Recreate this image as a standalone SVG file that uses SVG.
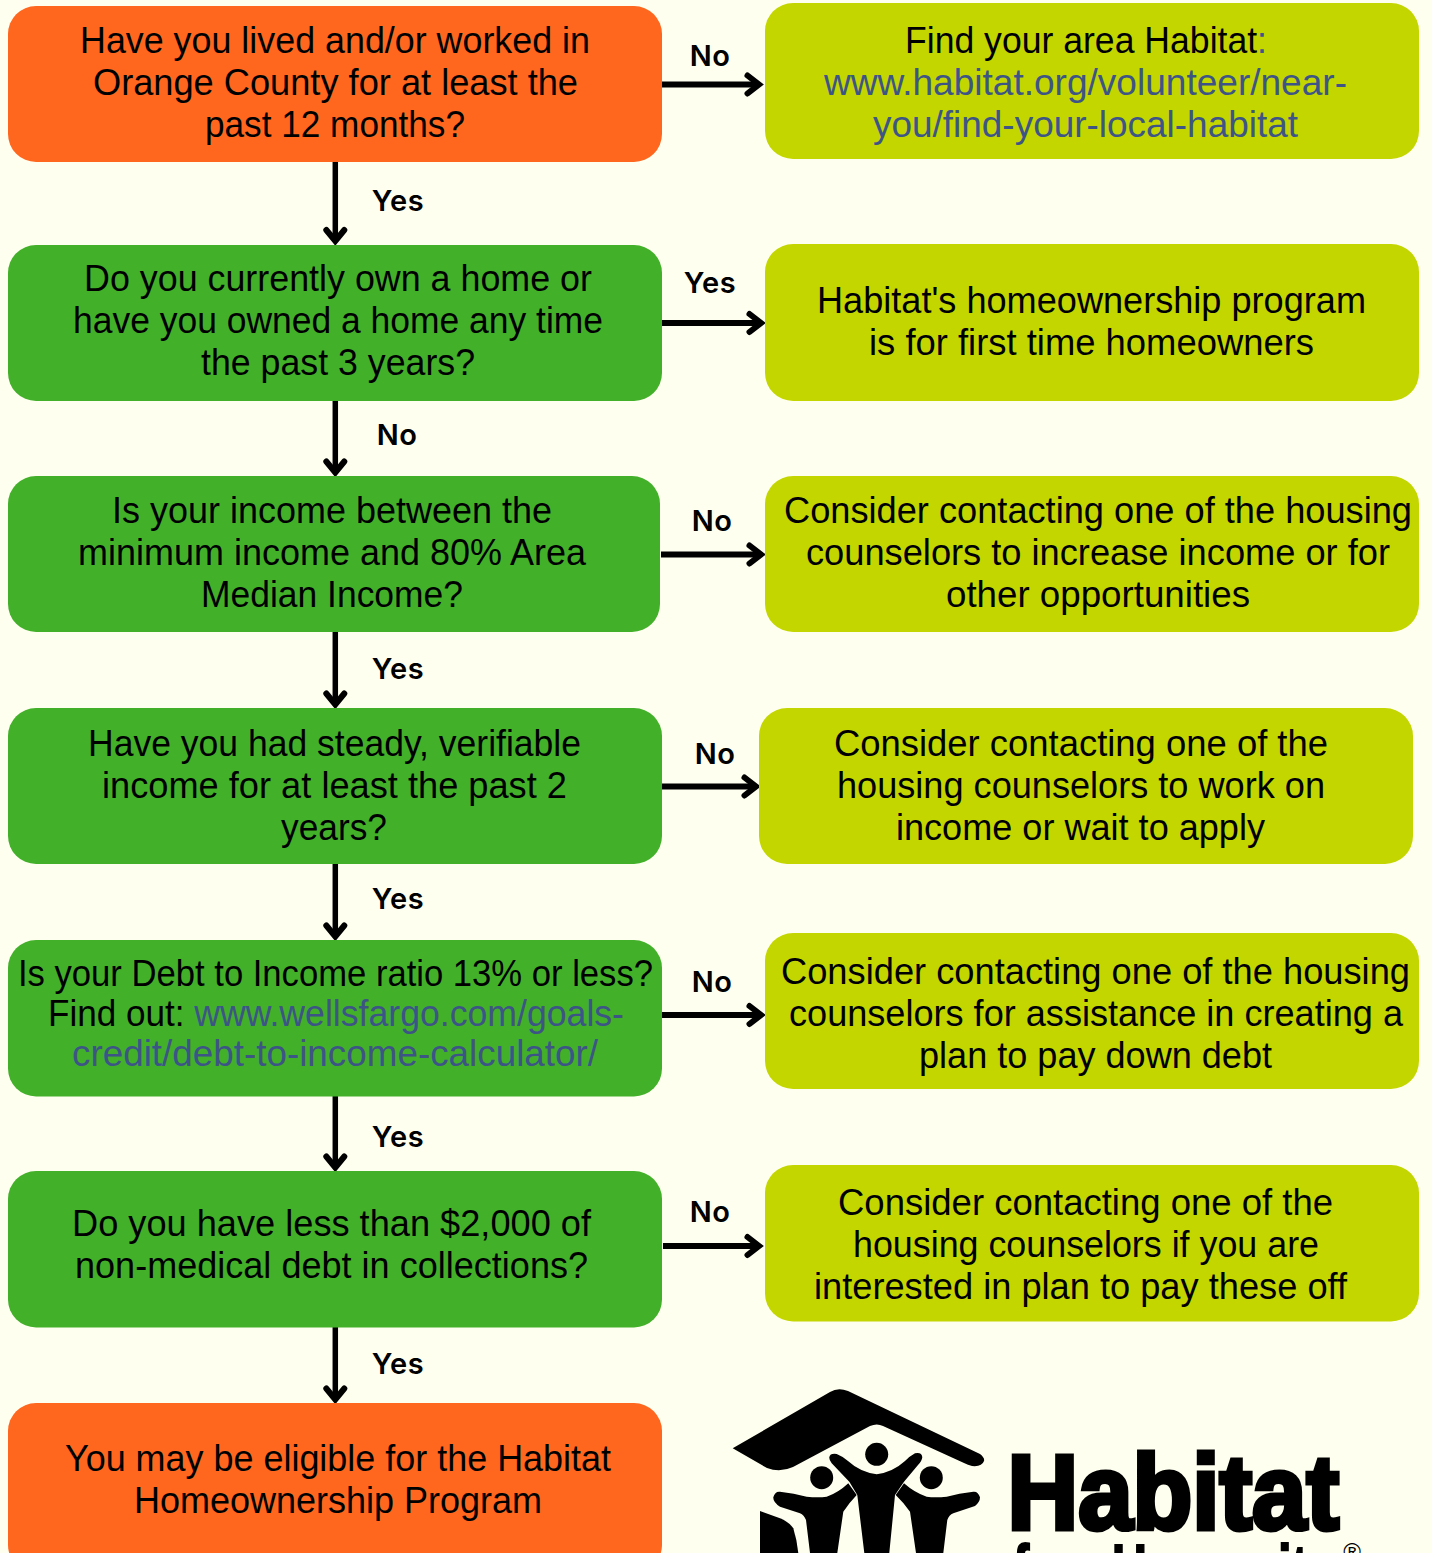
<svg xmlns="http://www.w3.org/2000/svg" width="1432" height="1553" viewBox="0 0 1432 1553">
<style>
.o{fill:#ff671f}.g{fill:#43b02a}.l{fill:#c4d600}
text{font-family:"Liberation Sans",Arial,sans-serif;font-size:36px;fill:#000;text-anchor:middle}
.lb{font-family:"Inter","Liberation Sans",sans-serif;font-size:29px;font-weight:600;letter-spacing:.5px}
.a{fill:#3d5586}
.h{fill:none;stroke:#000;stroke-width:6;marker-end:url(#ah)}
.v{fill:none;stroke:#000;stroke-width:5.5;marker-end:url(#av)}
.lg{font-weight:700;stroke:#000;text-anchor:start}
</style>
<defs>
<marker id="ah" markerUnits="userSpaceOnUse" viewBox="-20 -15 30 30" refX="0" refY="0" markerWidth="30" markerHeight="30" orient="auto"><path d="M-11.5 -9L0 0L-11.5 9" fill="none" stroke="#000" stroke-width="6" stroke-linecap="round"/></marker>
<marker id="av" markerUnits="userSpaceOnUse" viewBox="-20 -15 30 30" refX="0" refY="0" markerWidth="30" markerHeight="30" orient="auto"><path d="M-11 -9L0 0L-11 9" fill="none" stroke="#000" stroke-width="6" stroke-linecap="round"/></marker>
</defs>
<rect width="1432" height="1553" fill="#fffff0"/>
<g id="connectors">
<path class="h" d="M660 84.500H759"/><path class="v" d="M335.300 162V241"/>
<path class="h" d="M662 323H761"/><path class="v" d="M335.300 401V472.500"/>
<path class="h" d="M661 554.500H761"/><path class="v" d="M335.300 632V704.500"/>
<path class="h" d="M662 786.500H756"/><path class="v" d="M335.300 864V936.500"/>
<path class="h" d="M660 1015H761"/><path class="v" d="M335.300 1096V1167.500"/>
<path class="h" d="M663 1246H759"/><path class="v" d="M335.300 1327V1399.500"/>
<text class="lb" x="710" y="66">No</text><text class="lb" x="398" y="211">Yes</text>
<text class="lb" x="710" y="293">Yes</text><text class="lb" x="397" y="445">No</text>
<text class="lb" x="712" y="531">No</text><text class="lb" x="398" y="679">Yes</text>
<text class="lb" x="715" y="764">No</text><text class="lb" x="398" y="909">Yes</text>
<text class="lb" x="712" y="992">No</text><text class="lb" x="398" y="1147">Yes</text>
<text class="lb" x="710" y="1222">No</text><text class="lb" x="398" y="1374">Yes</text>
</g>
<g id="q1"><rect class="o" x="8" y="6" width="654" height="156" rx="28"/><text x="335" y="53" textLength="510" lengthAdjust="spacingAndGlyphs">Have you lived and/or worked in</text><text x="335.500" y="95" textLength="485" lengthAdjust="spacingAndGlyphs">Orange County for at least the</text><text x="335" y="137" textLength="260" lengthAdjust="spacingAndGlyphs">past 12 months?</text></g>
<g id="q2"><rect class="g" x="8" y="245" width="654" height="156" rx="28"/><text x="338" y="291" textLength="508" lengthAdjust="spacingAndGlyphs">Do you currently own a home or</text><text x="338" y="333" textLength="530" lengthAdjust="spacingAndGlyphs">have you owned a home any time</text><text x="338" y="375" textLength="274" lengthAdjust="spacingAndGlyphs">the past 3 years?</text></g>
<g id="q3"><rect class="g" x="8" y="476" width="652" height="156" rx="28"/><text x="332" y="523" textLength="440" lengthAdjust="spacingAndGlyphs">Is your income between the</text><text x="332" y="565" textLength="508" lengthAdjust="spacingAndGlyphs">minimum income and 80% Area</text><text x="332" y="607" textLength="262" lengthAdjust="spacingAndGlyphs">Median Income?</text></g>
<g id="q4"><rect class="g" x="8" y="708" width="654" height="156" rx="28"/><text x="334.500" y="756" textLength="493" lengthAdjust="spacingAndGlyphs">Have you had steady, verifiable</text><text x="334.500" y="798" textLength="465" lengthAdjust="spacingAndGlyphs">income for at least the past 2</text><text x="334" y="840" textLength="106" lengthAdjust="spacingAndGlyphs">years?</text></g>
<g id="q5"><rect class="g" x="8" y="940" width="654" height="156.500" rx="28"/><text x="335.500" y="986" textLength="635" lengthAdjust="spacingAndGlyphs">Is your Debt to Income ratio 13% or less?</text><text x="336" y="1026" textLength="576" lengthAdjust="spacingAndGlyphs">Find out: <tspan class="a" style="font-size:36.600px">www.wellsfargo.com/goals-</tspan></text><text class="a" x="335" y="1066" textLength="526" lengthAdjust="spacingAndGlyphs">credit/debt-to-income-calculator/</text></g>
<g id="q6"><rect class="g" x="8" y="1171" width="654" height="156.500" rx="28"/><text x="331.500" y="1236" textLength="519" lengthAdjust="spacingAndGlyphs">Do you have less than $2,000 of</text><text x="331.500" y="1278" textLength="513" lengthAdjust="spacingAndGlyphs">non-medical debt in collections?</text></g>
<g id="q7"><rect class="o" x="8" y="1403" width="654" height="170" rx="28"/><text x="338" y="1471" textLength="546" lengthAdjust="spacingAndGlyphs">You may be eligible for the Habitat</text><text x="338" y="1513" textLength="408" lengthAdjust="spacingAndGlyphs">Homeownership Program</text></g>
<g id="r1"><rect class="l" x="765" y="3" width="654" height="156" rx="28"/><text x="1086" y="53" textLength="362" lengthAdjust="spacingAndGlyphs">Find your area Habitat<tspan class="a">:</tspan></text><text class="a" x="1085.500" y="95" textLength="523" lengthAdjust="spacingAndGlyphs">www.habitat.org/volunteer/near-</text><text class="a" x="1085.500" y="137" textLength="425" lengthAdjust="spacingAndGlyphs">you/find-your-local-habitat</text></g>
<g id="r2"><rect class="l" x="765" y="244" width="654" height="157" rx="28"/><text x="1091.500" y="313" textLength="549" lengthAdjust="spacingAndGlyphs">Habitat's homeownership program</text><text x="1091.500" y="355" textLength="445" lengthAdjust="spacingAndGlyphs">is for first time homeowners</text></g>
<g id="r3"><rect class="l" x="765" y="476" width="654" height="156" rx="28"/><text x="1098" y="523" textLength="628" lengthAdjust="spacingAndGlyphs">Consider contacting one of the housing</text><text x="1098" y="565" textLength="584" lengthAdjust="spacingAndGlyphs">counselors to increase income or for</text><text x="1098" y="607" textLength="304" lengthAdjust="spacingAndGlyphs">other opportunities</text></g>
<g id="r4"><rect class="l" x="759" y="708" width="654" height="156" rx="28"/><text x="1081" y="756" textLength="494" lengthAdjust="spacingAndGlyphs">Consider contacting one of the</text><text x="1081" y="798" textLength="488" lengthAdjust="spacingAndGlyphs">housing counselors to work on</text><text x="1080.500" y="840" textLength="369" lengthAdjust="spacingAndGlyphs">income or wait to apply</text></g>
<g id="r5"><rect class="l" x="765" y="933" width="654" height="156" rx="28"/><text x="1095.500" y="984" textLength="629" lengthAdjust="spacingAndGlyphs">Consider contacting one of the housing</text><text x="1096" y="1026" textLength="614" lengthAdjust="spacingAndGlyphs">counselors for assistance in creating a</text><text x="1095.500" y="1068" textLength="353" lengthAdjust="spacingAndGlyphs">plan to pay down debt</text></g>
<g id="r6"><rect class="l" x="765" y="1165" width="654" height="156.500" rx="28"/><text x="1085.500" y="1215" textLength="495" lengthAdjust="spacingAndGlyphs">Consider contacting one of the</text><text x="1086" y="1257" textLength="466" lengthAdjust="spacingAndGlyphs">housing counselors if you are</text><text x="1080.500" y="1299" textLength="533" lengthAdjust="spacingAndGlyphs">interested in plan to pay these off</text></g>
<g id="logo">
<path d="M732.700 1448.300L830 1392Q838 1387 848 1391L980 1454Q985 1458 984 1461Q982 1467 972 1466Q968 1465 964 1463L883 1426Q877 1423 870 1426L793 1467Q780 1473 767 1468Z"/>
<circle cx="876.700" cy="1454.300" r="11.500"/><circle cx="821.700" cy="1477.700" r="11.500"/><circle cx="931.300" cy="1477.700" r="11.500"/>
<path d="M829.300 1457.300Q830 1453 836.700 1454Q842 1456 848 1461Q860 1472 876.700 1474.300Q893 1472 905 1461Q910 1456 915 1453.300Q922 1452 922.300 1457.300Q922 1461 918 1465L904 1481.700L895 1495L889.300 1553H864.300L857.300 1495L849.300 1481.700L831.700 1463.300Q829 1460 829.300 1457.300Z"/>
<path d="M773.300 1497.300Q775 1491 780 1491.700Q794 1493 806.700 1496.700Q818 1498 826.700 1496.700Q838 1493 848.300 1483.300L856.700 1495Q849 1503 843.300 1511.700L837.300 1553H810L806 1520Q804 1515 800 1513.300L780 1506.700Q773 1502 773.300 1497.300Z"/>
<path d="M980 1497.300Q978 1491 973.300 1491.700Q959 1493 946.700 1496.700Q935 1498 926.700 1496.700Q915 1493 904 1483.300L895.700 1495Q904 1503 910 1511.700L916 1553H943.300L947.300 1520Q949 1515 953.300 1513.300L975 1506Q980 1502 980 1497.300Z"/>
<path d="M760 1511L780 1518.300Q789 1522 793.300 1528.300Q797 1540 798.300 1553H760Z"/>
<text class="lg" x="1007.500" y="1528.500" style="font-size:106px;stroke-width:5" textLength="331.500" lengthAdjust="spacingAndGlyphs">Habitat</text>
<text class="lg" transform="translate(1013 1594) scale(.7 1)" style="font-size:70px;stroke-width:2;word-spacing:28.500px">for Humanity</text>
<text x="1352" y="1560" style="font-size:24px">®</text>
</g>
</svg>
